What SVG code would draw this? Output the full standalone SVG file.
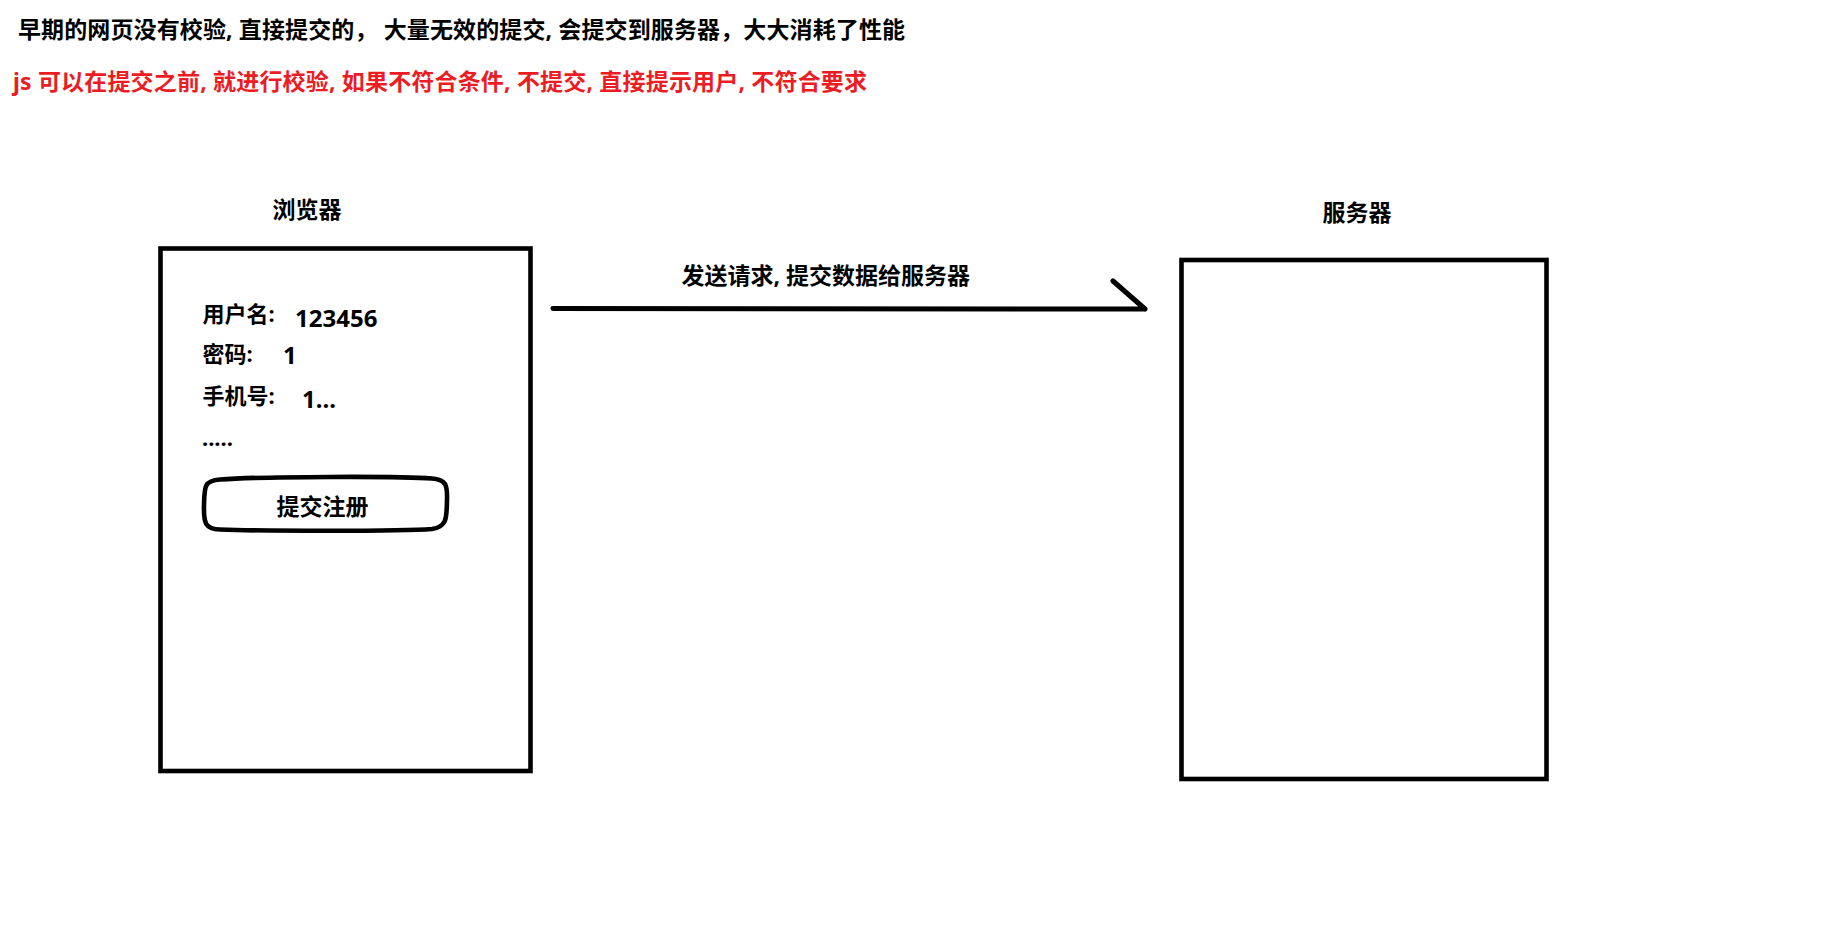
<svg xmlns="http://www.w3.org/2000/svg" width="1830" height="938" viewBox="0 0 1830 938">
<style>
text{font-family:"Noto Sans","Noto Sans CJK SC",sans-serif;font-weight:700;fill:#000}
.t{font-size:23px}
.lab{font-size:22px}
.val{font-size:24px}
.red{fill:#ec1c24}
.box{fill:none;stroke:#000;stroke-width:4.6}
.wire{fill:none;stroke:#000;stroke-width:5;stroke-linecap:round;stroke-linejoin:round}
</style>
<rect width="1830" height="938" fill="#fff"/>
<g id="notes">
<text class="t" x="18" y="37.5" textLength="887" lengthAdjust="spacing">早期的网页没有校验, 直接提交的，  大量无效的提交, 会提交到服务器，大大消耗了性能</text>
<text class="t red" x="13" y="90" textLength="854" lengthAdjust="spacing">js 可以在提交之前, 就进行校验, 如果不符合条件, 不提交, 直接提示用户, 不符合要求</text>
</g>
<g id="browser">
<text class="t" x="272.5" y="218">浏览器</text>
<rect class="box" x="160.5" y="248.5" width="370" height="522.5"/>
<text class="lab" x="202.5" y="322">用户名:</text>
<text class="val" x="295" y="327">123456</text>
<text class="lab" x="202.5" y="362">密码:</text>
<text class="val" x="283" y="364">1</text>
<text class="lab" x="202.5" y="404">手机号:</text>
<text class="val" x="302" y="407.5">1...</text>
<text class="lab" x="202" y="446">.....</text>
<g id="submit-button">
<path class="box" d="M220,479.5 C260,476.5 400,476 432,478.5 C446,479.5 447.5,485 447,500 C446.5,517 447.5,527 432,529 C400,531.5 260,531 220,529.5 C205,529 203.5,523 204,505 C204.5,487 204,480.5 220,479.5 Z"/>
<text class="t" x="276.5" y="515">提交注册</text>
</g>
</g>
<g id="server">
<text class="t" x="1322.5" y="221">服务器</text>
<rect class="box" x="1181.5" y="260" width="365" height="519"/>
</g>
<g id="connectors">
<path class="wire" d="M553,308.5 L1145,309 M1113,281 L1145,309"/>
<text class="t" x="681.5" y="284">发送请求, 提交数据给服务器</text>
</g>
</svg>
